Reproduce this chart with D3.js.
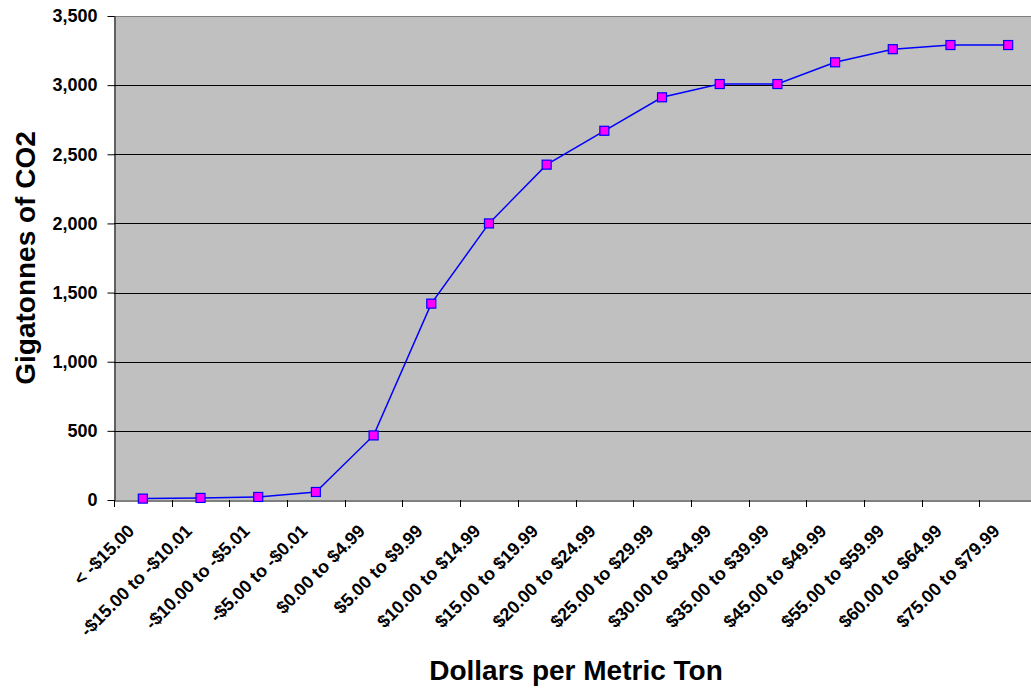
<!DOCTYPE html>
<html lang="en">
<head>
  <title>Gigatonnes of CO2 by price</title>
  <script src="https://d3js.org/d3.v7.min.js"></script>
  <style>
    body { margin: 0; padding: 0; background: #fff; overflow: hidden; }
    svg { display: block; font-family: "Liberation Sans", Arial, sans-serif; }
  </style>
</head>
<body>
  <svg id="chart"></svg>
  <script>
    // price bands (x categories)
    const categories = [
      "< -$15.00", "-$15.00 to -$10.01", "-$10.00 to -$5.01", "-$5.00 to -$0.01",
      "$0.00 to $4.99", "$5.00 to $9.99", "$10.00 to $14.99", "$15.00 to $19.99",
      "$20.00 to $24.99", "$25.00 to $29.99", "$30.00 to $34.99", "$35.00 to $39.99",
      "$45.00 to $49.99", "$55.00 to $59.99", "$60.00 to $64.99", "$75.00 to $79.99"
    ];
    // cumulative gigatonnes
    const values = [10, 15, 22, 58, 467, 1420, 2000, 2425, 2670, 2912, 3008, 3008, 3165, 3260, 3290, 3290];
    const yTicks = [0, 500, 1000, 1500, 2000, 2500, 3000, 3500];

    const width = 1031, height = 692;
    const margin = { top: 16, right: -6, bottom: 192, left: 114 };

    const svg = d3.select("#chart").attr("width", width).attr("height", height);

    const x = d3.scaleBand()
      .domain(categories)
      .range([margin.left, width - margin.right]);

    const y = d3.scaleLinear()
      .domain([0, 3500])
      .range([height - margin.bottom, margin.top]);

    // plot background
    svg.append("rect")
      .attr("x", margin.left)
      .attr("y", margin.top)
      .attr("width", width - margin.right - margin.left)
      .attr("height", y(0) - margin.top)
      .attr("fill", "#c0c0c0");

    // gridlines
    svg.append("g")
      .selectAll("line")
      .data(yTicks.filter(d => d > 0))
      .enter().append("line")
      .attr("x1", margin.left)
      .attr("x2", width - margin.right)
      .attr("y1", d => Math.round(y(d)) + 0.5)
      .attr("y2", d => Math.round(y(d)) + 0.5)
      .attr("stroke", d => d === 3500 ? "#808080" : "#000")
      .attr("stroke-width", 1);

    // y axis
    const yAxis = svg.append("g")
      .attr("transform", `translate(${margin.left + 0.5},0)`)
      .call(d3.axisLeft(y).tickValues(yTicks).tickFormat(d3.format(",")).tickSize(7).tickSizeOuter(0));
    yAxis.select(".domain").attr("stroke", "#000");
    yAxis.selectAll("text")
      .attr("font-size", "18px")
      .attr("font-weight", "bold")
      .attr("fill", "#000")
      .attr("x", -17);

    // x axis
    const xAxis = svg.append("g")
      .attr("transform", `translate(0,${Math.round(y(0)) + 0.5})`)
      .call(d3.axisBottom(x).tickSize(0).tickSizeOuter(0));
    xAxis.select(".domain").attr("stroke", "#000");
    xAxis.selectAll(".tick line").remove();
    xAxis.selectAll("text")
      .attr("font-size", "18px")
      .attr("font-weight", "bold")
      .attr("fill", "#000")
      .attr("text-anchor", "end")
      .attr("dy", "0.35em")
      .attr("transform", "translate(-14,25) rotate(-45)");

    // tick marks between categories
    svg.append("g")
      .selectAll("line")
      .data(categories)
      .enter().append("line")
      .attr("x1", d => Math.round(x(d)) + 0.5)
      .attr("x2", d => Math.round(x(d)) + 0.5)
      .attr("y1", y(0))
      .attr("y2", y(0) + 7)
      .attr("stroke", "#000");

    // data line
    const line = d3.line()
      .x((d, i) => x(categories[i]) + x.bandwidth() / 2)
      .y(d => y(d));

    svg.append("path")
      .datum(values)
      .attr("d", line)
      .attr("fill", "none")
      .attr("stroke", "#0000ff")
      .attr("stroke-width", 1.5);

    // markers
    svg.append("g")
      .selectAll("rect")
      .data(values)
      .enter().append("rect")
      .attr("x", (d, i) => x(categories[i]) + x.bandwidth() / 2 - 4.5)
      .attr("y", d => y(d) - 4.5)
      .attr("width", 9)
      .attr("height", 9)
      .attr("fill", "#ff00ff")
      .attr("stroke", "#0000ff")
      .attr("stroke-width", 1.2);

    // axis titles
    svg.append("text")
      .attr("x", 576)
      .attr("y", 680)
      .attr("text-anchor", "middle")
      .attr("font-size", "28px")
      .attr("font-weight", "bold")
      .text("Dollars per Metric Ton");

    svg.append("text")
      .attr("transform", `translate(35,${(margin.top + y(0)) / 2}) rotate(-90)`)
      .attr("text-anchor", "middle")
      .attr("font-size", "28px")
      .attr("font-weight", "bold")
      .text("Gigatonnes of CO2");
  </script>
</body>
</html>
